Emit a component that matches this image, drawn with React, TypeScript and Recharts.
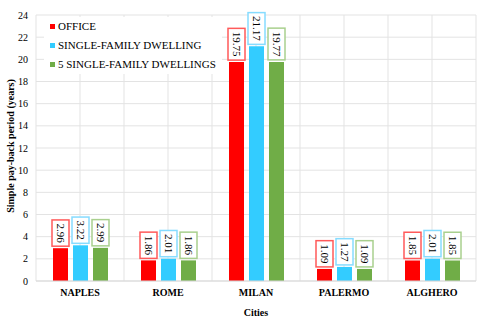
import React from 'react';
import { BarChart, Bar, XAxis, YAxis, CartesianGrid, LabelList } from 'recharts';

const cities = ['NAPLES', 'ROME', 'MILAN', 'PALERMO', 'ALGHERO'];
const office = [2.96, 1.86, 19.75, 1.09, 1.85];
const singleFamily = [3.22, 2.01, 21.17, 1.27, 2.01];
const fiveSingleFamily = [2.99, 1.86, 19.77, 1.09, 1.85];
const yTicks = [0, 2, 4, 6, 8, 10, 12, 14, 16, 18, 20, 22, 24];

const series = [
  { key: 'office', name: 'OFFICE', fill: '#ff0000', border: '#ff5a5a' },
  { key: 'single', name: 'SINGLE-FAMILY DWELLING', fill: '#33ccff', border: '#86dcff' },
  { key: 'five', name: '5 SINGLE-FAMILY DWELLINGS', fill: '#70ad47', border: '#a9d08e' },
];

const data = cities.map((c, i) => ({
  city: c,
  office: office[i],
  single: singleFamily[i],
  five: fiveSingleFamily[i],
}));

const FONT = '"Liberation Serif", "Times New Roman", serif';

const textLen = (s: string, fs: number) => {
  let w = 0;
  for (const ch of s) w += ch === '.' ? 0.25 * fs : 0.5 * fs;
  return w;
};

const makeLabel = (border: string) => (props: any) => {
  const { x, y, width, value } = props;
  const s = Number(value).toFixed(2);
  const fs = 11;
  const h = textLen(s, fs) + 7;
  const bx = Number(x) - 1;
  const bw = Number(width) + 2;
  const by = Number(y) - 2 - h;
  const cx = bx + bw / 2;
  const cy = by + h / 2;
  return (
    <g>
      <rect x={bx} y={by} width={bw} height={h} fill="#ffffff" stroke={border} strokeWidth={1.5} />
      <text
        x={cx}
        y={cy}
        textAnchor="middle"
        dominantBaseline="central"
        transform={`rotate(90 ${cx} ${cy})`}
        fontFamily={FONT}
        fontSize={fs}
        fill="#000"
      >
        {s}
      </text>
    </g>
  );
};

const vGrid = ({ offset }: any) => {
  const step = offset.width / cities.length / 2;
  const arr: number[] = [];
  for (let i = 0; i <= cities.length * 2; i++) arr.push(offset.left + i * step);
  return arr;
};

export default function App() {
  return (
    <div style={{ position: 'absolute', left: 0, top: 0, width: 480, height: 320, background: '#fff' }}>
      <BarChart
        width={480}
        height={320}
        data={data}
        margin={{ top: 15, right: 4, left: 0, bottom: 0 }}
        barSize={15}
        barGap={5}
      >
        <CartesianGrid stroke="#e3e3e3" strokeWidth={1} verticalCoordinatesGenerator={vGrid} />
        <XAxis
          dataKey="city"
          height={39}
          tickLine={false}
          axisLine={{ stroke: '#d9d9d9' }}
          tick={{ fontFamily: FONT, fontSize: 10, fontWeight: 'bold', fill: '#000' }}
          label={{
            value: 'Cities',
            position: 'insideBottom',
            offset: 4,
            style: { fontFamily: FONT, fontSize: 10, fontWeight: 'bold', fill: '#000' },
          }}
        />
        <YAxis
          width={36}
          domain={[0, 24]}
          ticks={yTicks}
          interval={0}
          tickLine={false}
          axisLine={false}
          tick={{ fontFamily: FONT, fontSize: 10, fill: '#000' }}
          label={{
            content: () => (
              <text
                x={10}
                y={146}
                transform="rotate(-90 10 146)"
                textAnchor="middle"
                dominantBaseline="central"
                fontFamily={FONT}
                fontSize={10}
                fontWeight="bold"
                fill="#000"
              >
                Simple pay-back period (years)
              </text>
            ),
          }}
        />
        {series.map((s) => (
          <Bar key={s.key} dataKey={s.key} name={s.name} fill={s.fill} isAnimationActive={false}>
            <LabelList dataKey={s.key} content={makeLabel(s.border)} />
          </Bar>
        ))}
      </BarChart>
      <div
        style={{
          position: 'absolute',
          left: 44,
          top: 17,
          padding: '0 6px',
          fontFamily: FONT,
          fontSize: 11,
          lineHeight: '19px',
          color: '#000',
          background: '#ffffff',
        }}
      >
        {series.map((s) => (
          <div key={s.key} style={{ display: 'flex', alignItems: 'center', whiteSpace: 'nowrap' }}>
            <span style={{ display: 'inline-block', width: 5, height: 5, background: s.fill, marginRight: 3 }} />
            <span>{s.name}</span>
          </div>
        ))}
      </div>
    </div>
  );
}
